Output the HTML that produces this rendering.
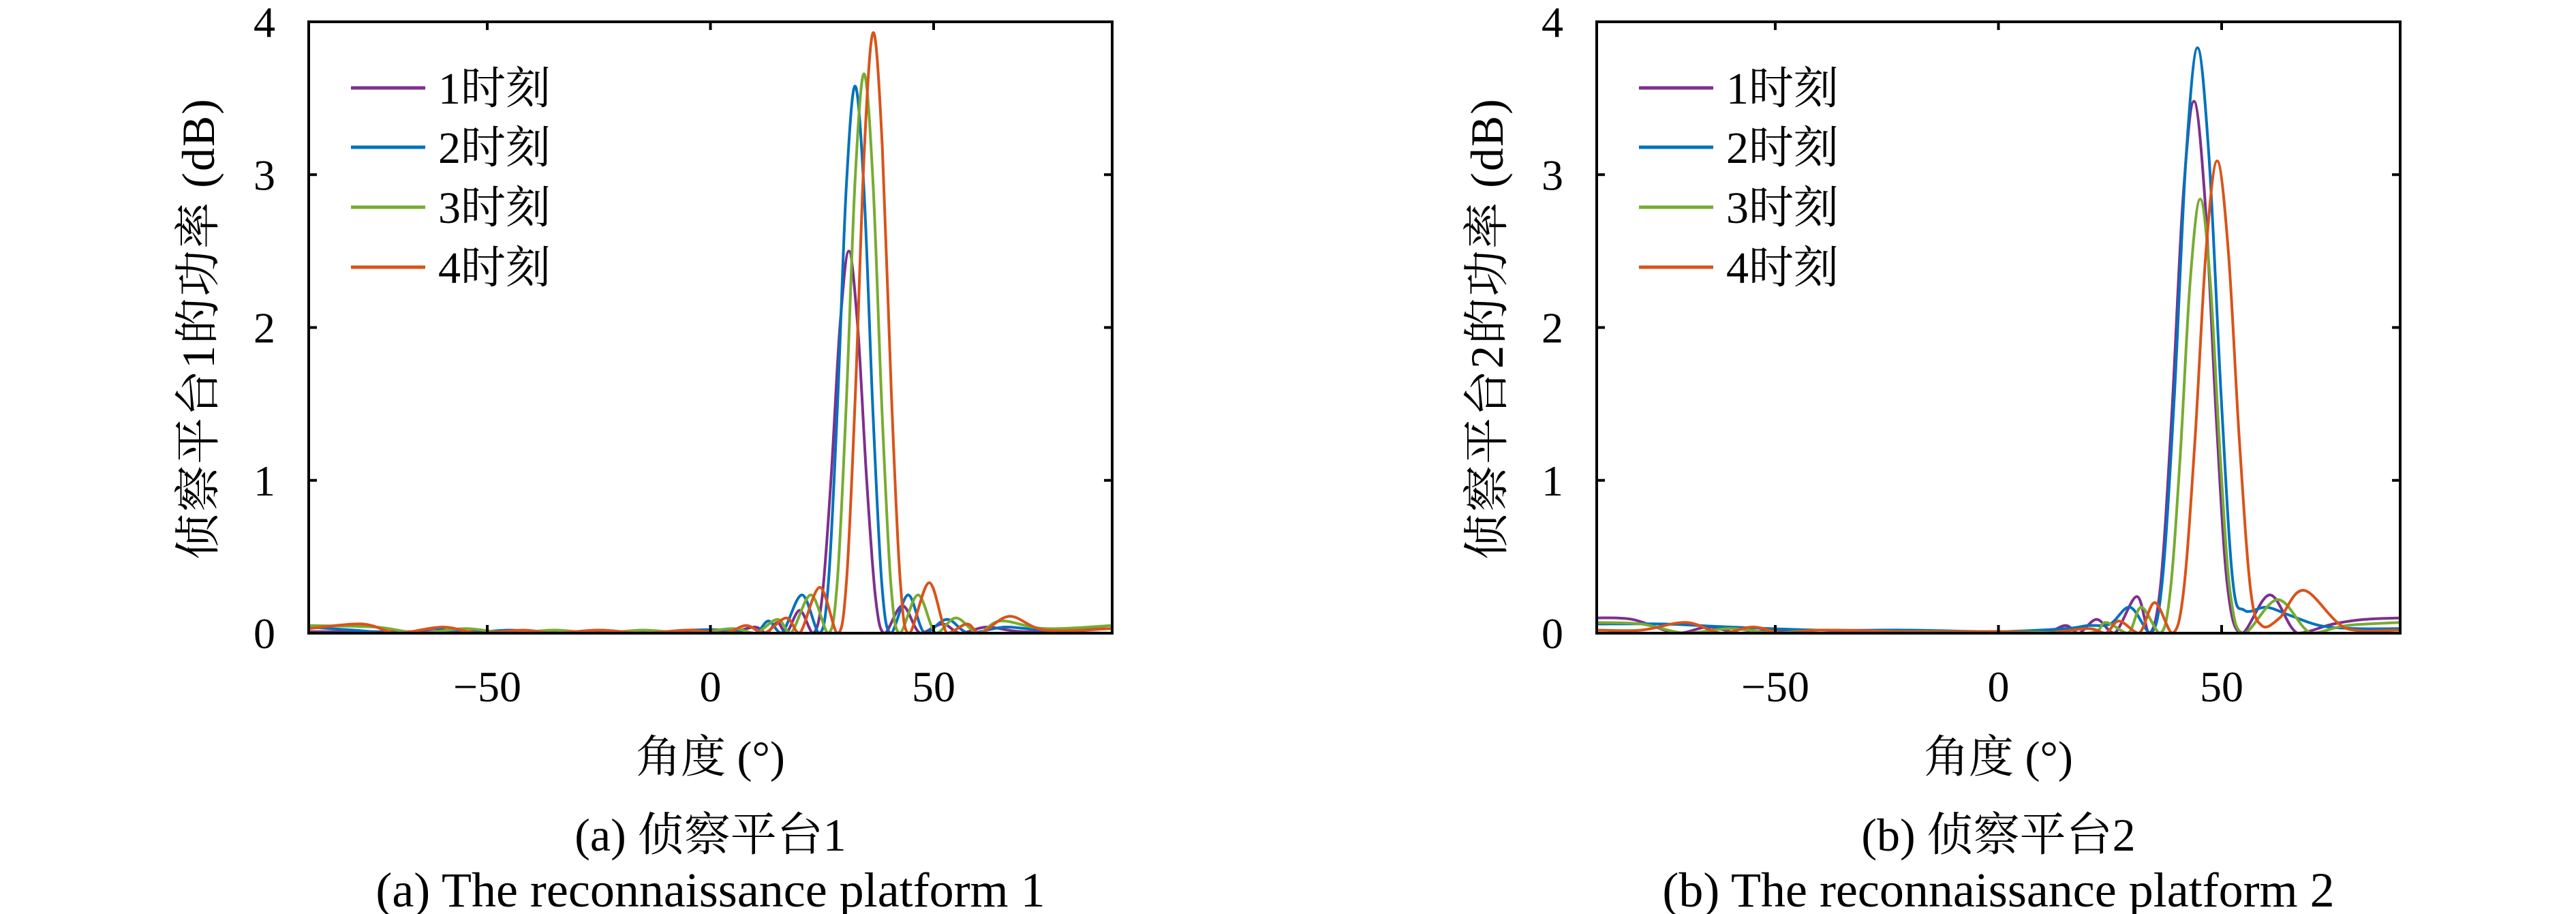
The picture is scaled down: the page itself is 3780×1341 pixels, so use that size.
<!DOCTYPE html>
<html><head><meta charset="utf-8">
<style>
html,body{margin:0;padding:0;background:#fff;}
svg{display:block;}
text{font-family:"Liberation Serif","Noto Serif CJK SC",serif;fill:#000;}
</style></head>
<body>
<svg id="chart" width="3780" height="1341" viewBox="0 0 3780 1341" xmlns="http://www.w3.org/2000/svg">
<rect width="3780" height="1341" fill="#fff"/>
</svg>
<script>
// ---- data ----
var xTicks = [-50, 0, 50];
var yTicks = [0, 1, 2, 3, 4];
var seriesNames = ["1时刻", "2时刻", "3时刻", "4时刻"];
var seriesColors = ["#7E2F8E", "#0072BD", "#77AC30", "#D95319"];

var p1Purple = [[-90,0.01],[-70,0.01],[-50,0.01],[-30,0.01],[-10,0.01],[0,0.02],[5,0.01],[10,0.04],[12.5,0.0],[15,0.07],[17,0.0],[20,0.15],[23,0],[25,0.23],[27,1.0],[29,2.0],[31,2.5],[33,2.0],[35,1.0],[37,0.23],[39,0],[43,0.18],[47,0],[52,0.06],[56,0.0],[62,0.04],[70,0.01],[90,0.0]];
var p1Blue = [[-90,0.04],[-80,0.02],[-70,0.0],[-62,0.03],[-55,0.0],[-45,0.02],[-35,0.0],[-25,0.02],[-15,0.0],[-5,0.02],[5,0.02],[10,0.0],[13,0.08],[16,0.0],[20.5,0.25],[24.4,0],[26.4,0.32],[28.4,1.45],[30.4,2.9],[32.4,3.58],[34.4,2.9],[36.4,1.45],[38.4,0.32],[40.4,0],[44.3,0.25],[48,0],[53,0.09],[58,0.0],[66,0.04],[75,0.02],[90,0.03]];
var p1Green = [[-90,0.05],[-75,0.04],[-65,0.0],[-55,0.03],[-45,0.0],[-35,0.02],[-25,0.0],[-15,0.02],[-5,0],[5,0.03],[10,0],[15,0.09],[18,0],[22.5,0.25],[26.4,0],[28.4,0.33],[30.4,1.48],[32.4,2.96],[34.4,3.66],[36.4,2.96],[38.4,1.48],[40.4,0.33],[42.4,0],[46.5,0.25],[50.5,0],[55,0.1],[60,0],[65,0.08],[75,0.03],[90,0.05]];
var p1Orange = [[-90,0.03],[-78,0.06],[-70,0.0],[-60,0.04],[-52,0.0],[-42,0.02],[-35,0],[-25,0.02],[-15,0],[-5,0.02],[3,0],[8,0.05],[12,0],[17,0.1],[20,0],[24.5,0.3],[28.5,0],[30.5,0.35],[32.5,1.59],[34.5,3.18],[36.5,3.93],[38.5,3.18],[40.5,1.59],[42.5,0.35],[44.5,0],[49,0.33],[53,0],[57.5,0.06],[60.5,0],[67,0.11],[75,0.02],[90,0.03]];

var p2Purple = [[-90,0.1],[-82,0.09],[-72,0.0],[-65,0.04],[-58,0.0],[-50,0.02],[-40,0],[-30,0.01],[-10,0.01],[0,0.01],[10,0.0],[15,0.05],[18,0],[22,0.09],[26,0],[31,0.24],[33.8,0],[36.3,0.31],[38.8,1.41],[41.3,2.82],[43.8,3.48],[46.3,2.82],[48.8,1.41],[51.3,0.31],[54.5,0],[60.8,0.25],[67,0],[75,0.06],[82,0.09],[90,0.1]];
var p2Blue = [[-90,0.06],[-75,0.06],[-60,0.04],[-40,0.02],[-20,0.02],[0,0.01],[15,0.03],[20,0.05],[25,0.06],[29.5,0.17],[34.1,0],[36.7,0.34],[39.4,1.55],[42,3.1],[44.6,3.83],[47.2,3.1],[49.9,1.55],[52.5,0.34],[55.1,0.15],[60,0.17],[65,0.12],[72,0.05],[80,0.03],[90,0.03]];
var p2Green = [[-90,0.07],[-80,0.06],[-70,0],[-60,0.03],[-50,0],[-40,0.02],[-20,0.01],[0,0.01],[20,0],[24,0.07],[29,0],[32,0.17],[36.2,0],[38.45,0.26],[40.7,1.15],[42.95,2.3],[45.2,2.84],[47.45,2.3],[49.7,1.15],[51.95,0.26],[55,0],[62.6,0.22],[70,0],[78,0.05],[90,0.07]];
var p2Orange = [[-90,0.02],[-80,0.02],[-70,0.07],[-62,0.0],[-55,0.04],[-48,0],[-40,0.02],[-20,0.01],[0,0.01],[10,0.0],[20,0.03],[24,0],[27,0.08],[31.5,0],[35,0.2],[39,0],[41.5,0.28],[44,1.25],[46.5,2.5],[49,3.09],[51.5,2.5],[54,1.25],[56.5,0.28],[59,0.05],[63,0.1],[68.5,0.28],[78,0.03],[90,0.02]];

var panel1Series = [p1Purple, p1Blue, p1Green, p1Orange];
var panel2Series = [p2Purple, p2Blue, p2Green, p2Orange];

var NS = "http://www.w3.org/2000/svg";
var svg = document.getElementById("chart");
function mk(tag, attrs, parent) {
  var e = document.createElementNS(NS, tag);
  for (var k in attrs) e.setAttribute(k, attrs[k]);
  (parent || svg).appendChild(e);
  return e;
}

function drawPanel(cfg) {
  var g = mk("g", {});
  
  
  var L = cfg.left, R = cfg.right, T = 32, B = 929;
  function sx(v) { return L + (v + 90) / 180 * (R - L); }
  function sy(v) { return B - v / 4 * (B - T); }

  var sg = mk("g", {}, g);
  
  
  cfg.series.forEach(function (pts, i) {
    var P = pts.map(function (p) { return [sx(p[0]), sy(p[1])]; });
    var d = "M" + P[0][0].toFixed(1) + "," + P[0][1].toFixed(1);
    for (var j = 0; j < P.length - 1; j++) {
      var p0 = P[j - 1] || P[j], p1 = P[j], p2 = P[j + 1], p3 = P[j + 2] || p2;
      var c1x = p1[0] + (p2[0] - p0[0]) / 6, c1y = p1[1] + (p2[1] - p0[1]) / 6;
      var c2x = p2[0] - (p3[0] - p1[0]) / 6, c2y = p2[1] - (p3[1] - p1[1]) / 6;
      c1y = Math.min(c1y, B); c2y = Math.min(c2y, B);
      d += " C" + c1x.toFixed(1) + "," + c1y.toFixed(1) + " " + c2x.toFixed(1) + "," + c2y.toFixed(1) + " " + p2[0].toFixed(1) + "," + p2[1].toFixed(1);
    }
    var path = mk("path", { d: d, fill: "none", stroke: seriesColors[i], "stroke-width": 4, "stroke-linejoin": "round" }, sg);
    
    
  });

  var box = mk("rect", { x: L, y: T, width: R - L, height: B - T, fill: "none", stroke: "#000", "stroke-width": 4 }, g);
  
  

  xTicks.forEach(function (t) {
    var x = sx(t);
    mk("line", { x1: x, y1: B, x2: x, y2: B - 12, stroke: "#000", "stroke-width": 4 }, g);
    mk("line", { x1: x, y1: T, x2: x, y2: T + 12, stroke: "#000", "stroke-width": 4 }, g);
    var tx = mk("text", { x: x, y: 1029, "font-size": 64, "text-anchor": "middle" }, g);
    tx.textContent = t < 0 ? "\u2212" + Math.abs(t) : String(t);
    
    
  });
  yTicks.forEach(function (t) {
    var y = sy(t);
    mk("line", { x1: L, y1: y, x2: L + 12, y2: y, stroke: "#000", "stroke-width": 4 }, g);
    mk("line", { x1: R, y1: y, x2: R - 12, y2: y, stroke: "#000", "stroke-width": 4 }, g);
    var ty = mk("text", { x: cfg.yLabelRight, y: y + 22, "font-size": 64, "text-anchor": "end" }, g);
    ty.textContent = String(t);
    
    
  });

  var lg = mk("g", {}, g);
  
  
  var rows = [129, 216, 304, 392];
  seriesNames.forEach(function (n, i) {
    var e = mk("g", {}, lg);
    
    
    mk("line", { x1: L + 62, y1: rows[i], x2: L + 171, y2: rows[i], stroke: seriesColors[i], "stroke-width": 5 }, e);
    var t = mk("text", { x: L + 190, y: rows[i] + 23, "font-size": 66 }, e);
    t.textContent = n;
  });

  var xt = mk("text", { x: (L + R) / 2, y: 1133, "font-size": 66, "text-anchor": "middle" }, g);
  xt.textContent = "角度 (°)";
  
  
  var yt = mk("text", { x: 0, y: 0, "font-size": 68, "letter-spacing": 2, "text-anchor": "middle", transform: "translate(" + (cfg.yTitleX + 23) + ",482) rotate(-90)" }, g);
  yt.textContent = cfg.yTitle;
  
  

  var c1 = mk("text", { x: (L + R) / 2, y: 1248, "font-size": 68, "text-anchor": "middle" }, g);
  c1.textContent = cfg.cap1;
  
  
  var c2 = mk("text", { x: (L + R) / 2, y: 1330, "font-size": 72, "text-anchor": "middle" }, g);
  c2.textContent = cfg.cap2;
  
  
}

drawPanel({ prefix: "platform-1", left: 453, right: 1632, yLabelRight: 404, yTitleX: 291,
  series: panel1Series, yTitle: "侦察平台1的功率 (dB)", cap1: "(a) 侦察平台1", cap2: "(a) The reconnaissance platform 1" });
drawPanel({ prefix: "platform-2", left: 2343, right: 3522, yLabelRight: 2294, yTitleX: 2182,
  series: panel2Series, yTitle: "侦察平台2的功率 (dB)", cap1: "(b) 侦察平台2", cap2: "(b) The reconnaissance platform 2" });
</script>
</body></html>
